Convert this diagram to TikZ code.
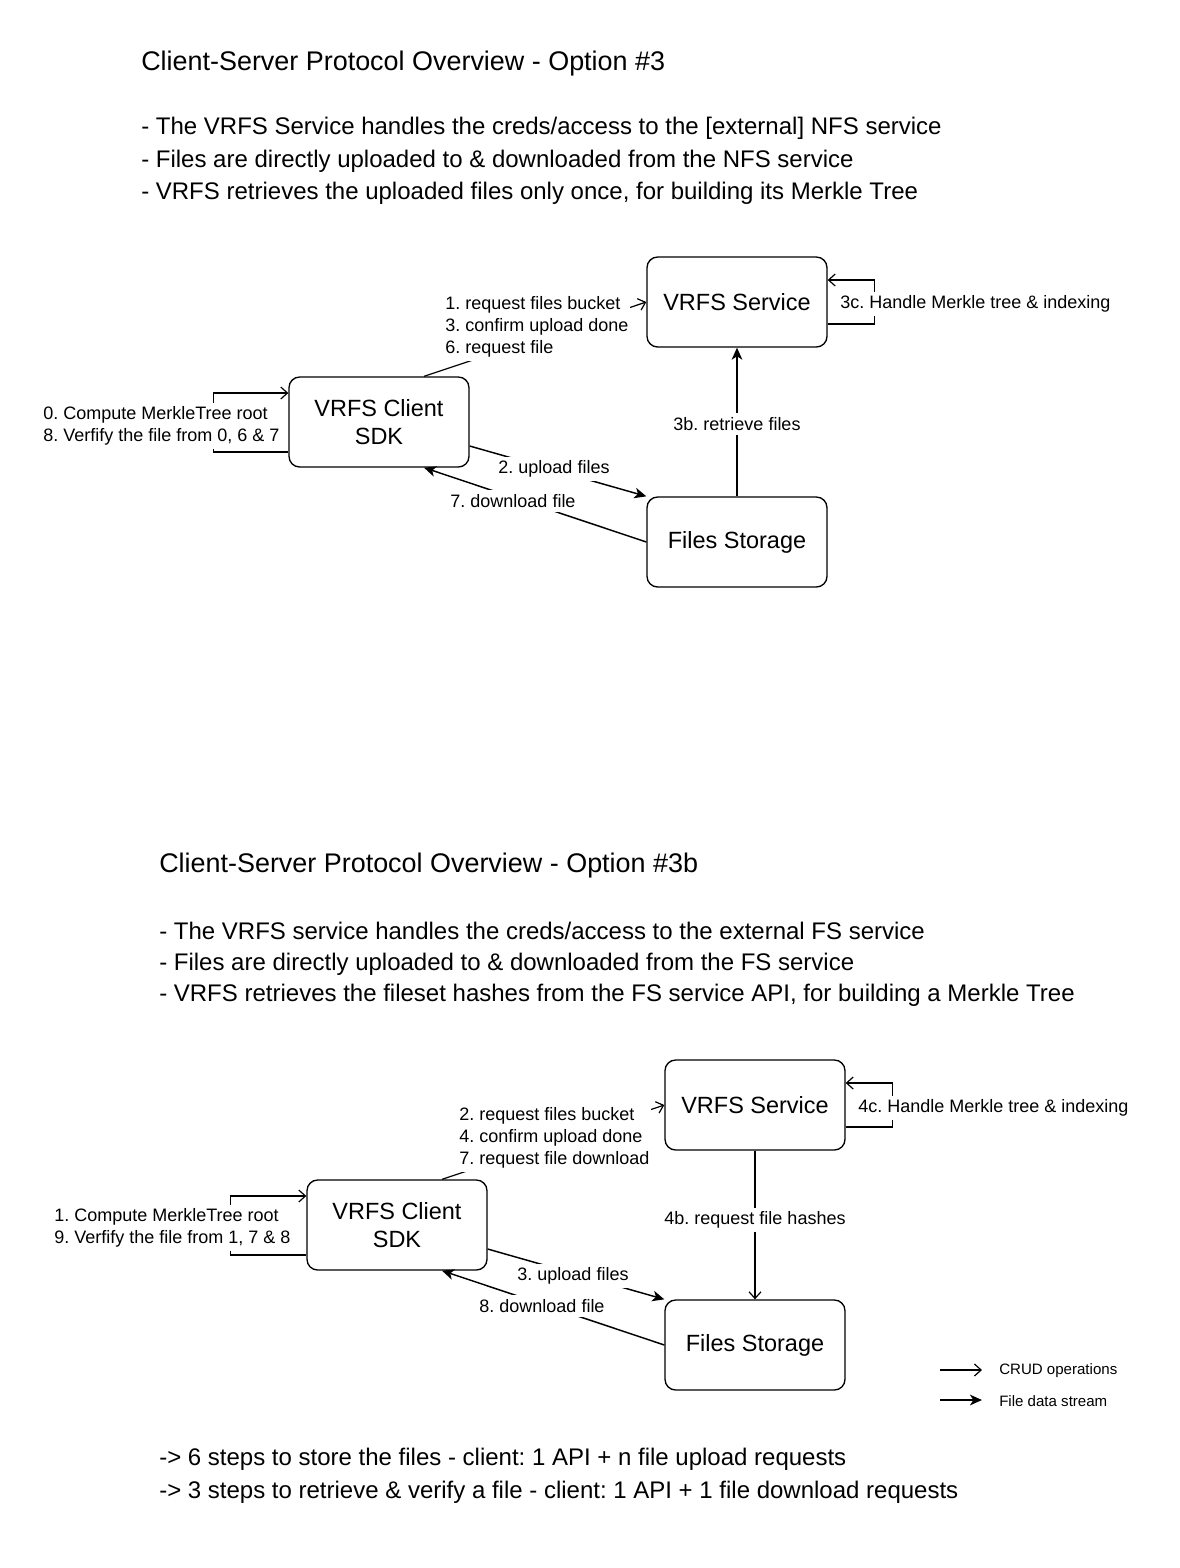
\documentclass[tikz,border=0pt]{standalone}
\usepackage{fontspec}
\setmainfont{Liberation Sans}
\usetikzlibrary{arrows.meta,calc}
\frenchspacing
\tikzset{
  box/.style={draw,line width=1pt,rounded corners=8pt,minimum width=135pt,minimum height=67.5pt,align=center,inner sep=0pt,font=\fontsize{17.6}{21.5}\selectfont},
  ttl/.style={anchor=west,inner sep=0pt,font=\fontsize{20.2}{24}\selectfont},
  big/.style={anchor=west,inner sep=0pt,font=\fontsize{18}{22}\selectfont},
  lbl/.style={fill=white,inner xsep=1.5pt,inner ysep=3pt,align=left,font=\fontsize{13.5}{16.4}\selectfont},
  leg/.style={anchor=west,inner sep=0pt,font=\fontsize{11.3}{13}\selectfont},
  crud/.style={line width=0.9pt,-{Straight Barb[length=5pt,width=9pt,line width=0.9pt]}},
  stream/.style={line width=1.1pt,-{Stealth[length=9pt,width=8pt,inset=2.5pt]}},
}
\begin{document}
\begin{tikzpicture}[x=0.75pt,y=-0.75pt]
\useasboundingbox[fill=white] (0,0) rectangle (1179,1568);

% ---------- Option #3 ----------
\node[ttl] (title1) at (141,64) {Client-Server Protocol Overview - Option \#3};
\node[big] (b1a) at (141,128) {- The VRFS Service handles the creds/access to the [external] NFS service};
\node[big] (b1b) at (141,161) {- Files are directly uploaded to \& downloaded from the NFS service};
\node[big] (b1c) at (141,193) {- VRFS retrieves the uploaded files only once, for building its Merkle Tree};

\node[box] (sv1) at (737,302) {VRFS Service};
\node[box] (cl1) at (379,422) {VRFS Client\\SDK};
\node[box] (fs1) at (737,542) {Files Storage};

\draw[crud] ($(cl1.north)+(45,0)$) -- (sv1.west);
\draw[stream] ($(cl1.east)+(0,24)$) -- (fs1.north west);
\draw[stream] (fs1.west) -- ($(cl1.south)+(45,0)$);
\draw[stream] (fs1.north) -- (sv1.south);
\draw[crud] ($(sv1.east)+(0,22)$) -- ++(47,0) -- ++(0,-44) -- ($(sv1.east)+(0,-22)$);
\draw[crud] ($(cl1.west)+(0,30)$) -- ++(-75,0) -- ++(0,-59) -- ($(cl1.west)+(0,-29)$);

\node[lbl,anchor=west] (l1a) at (443,327) {1. request files bucket\\3. confirm upload done\\6. request file};
\node[lbl] (l1b) at (554,469) {2. upload files};
\node[lbl] (l1c) at (513,501) {7. download file};
\node[lbl] (l1d) at (737,424) {3b. retrieve files};
\node[lbl,anchor=west] (l1e) at (838,304) {3c. Handle Merkle tree \& indexing};
\node[lbl,anchor=west] (l1f) at (41,426) {0. Compute MerkleTree root\\8. Verfify the file from 0, 6 \& 7};

% ---------- Option #3b ----------
\node[ttl] (title2) at (159,866) {Client-Server Protocol Overview - Option \#3b};
\node[big] (b2a) at (159,931) {- The VRFS service handles the creds/access to the external FS service};
\node[big] (b2b) at (159,964) {- Files are directly uploaded to \& downloaded from the FS service};
\node[big] (b2c) at (159,995) {- VRFS retrieves the fileset hashes from the FS service API, for building a Merkle Tree};

\node[box] (sv2) at (755,1105) {VRFS Service};
\node[box] (cl2) at (397,1225) {VRFS Client\\SDK};
\node[box] (fs2) at (755,1345) {Files Storage};

\draw[crud] ($(cl2.north)+(45,0)$) -- (sv2.west);
\draw[stream] ($(cl2.east)+(0,24)$) -- (fs2.north west);
\draw[stream] (fs2.west) -- ($(cl2.south)+(45,0)$);
\draw[crud] (sv2.south) -- (fs2.north);
\draw[crud] ($(sv2.east)+(0,22)$) -- ++(47,0) -- ++(0,-44) -- ($(sv2.east)+(0,-22)$);
\draw[crud] ($(cl2.west)+(0,30)$) -- ++(-76,0) -- ++(0,-59) -- ($(cl2.west)+(0,-29)$);

\node[lbl,anchor=west] (l2a) at (457,1138) {2. request files bucket\\4. confirm upload done\\7. request file download};
\node[lbl] (l2b) at (573,1276) {3. upload files};
\node[lbl] (l2c) at (542,1306) {8. download file};
\node[lbl] (l2d) at (755,1220) {4b. request file hashes};
\node[lbl,anchor=west] (l2e) at (856,1108) {4c. Handle Merkle tree \& indexing};
\node[lbl,anchor=west] (l2f) at (52,1228) {1. Compute MerkleTree root\\9. Verfify the file from 1, 7 \& 8};

% legend
\coordinate (g1a) at (940,1370);
\coordinate (g1b) at (982,1370);
\coordinate (g2a) at (940,1400);
\coordinate (g2b) at (982,1400);
\draw[crud] (g1a) -- (g1b);
\draw[stream] (g2a) -- (g2b);
\node[leg] (lg1) at (999,1371) {CRUD operations};
\node[leg] (lg2) at (999,1401) {File data stream};

% footer
\node[big] (f1) at (159,1459) {-> 6 steps to store the files - client: 1 API + n file upload requests};
\node[big] (f2) at (159,1492) {-> 3 steps to retrieve \& verify a file - client: 1 API + 1 file download requests};
\end{tikzpicture}
\end{document}
